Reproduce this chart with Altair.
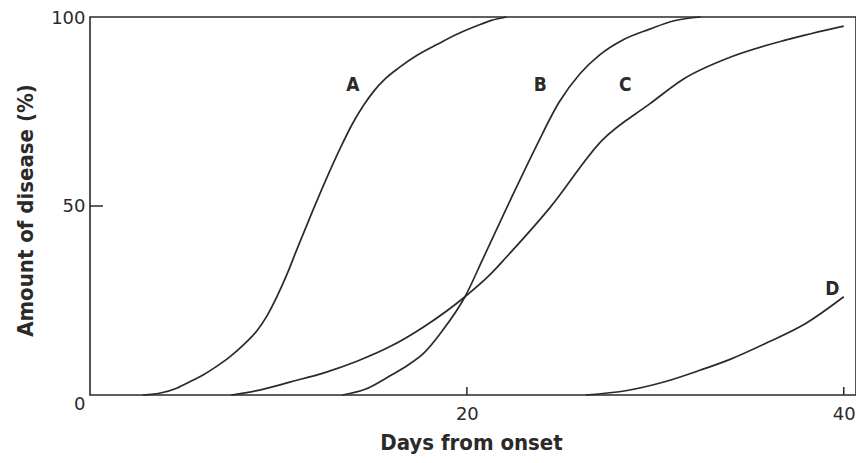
import altair as alt
import pandas as pd

# Curve data (days from onset, amount of disease %)
a_days = [2.8, 3.8, 4.6, 5.3, 6.0, 6.7, 7.4, 8.2, 8.86, 9.4, 9.9, 10.5, 11.0, 11.8, 12.57,
          13.3, 13.9, 14.5, 15.0, 15.7, 16.4, 17.4, 18.4, 19.5, 20.5, 21.3, 22.1]
a_vals = [0, 0.6, 1.8, 3.5, 5.3, 7.5, 10, 13.5, 17, 21, 25.8, 32.5, 38.8, 48.5, 57.5,
          65.5, 71.5, 76.5, 80, 83.8, 86.6, 90, 92.7, 95.5, 97.6, 99.1, 100]

b_days = [13.4, 14.6, 15.9, 16.9, 17.7, 18.7, 19.9, 20.85, 22.3, 23.7, 24.9, 26.0, 27.05,
          28.3, 29.7, 31.0, 32.4]
b_vals = [0, 1.5, 5, 8, 11, 17, 26, 36, 51.5, 66, 77.5, 85, 90, 94, 96.8, 99, 100]

c_days = [7.5, 9.0, 10.6, 12.5, 14.2, 16.0, 17.7, 19.9, 21.2, 22.1, 24.4, 27.2, 29.7,
          31.5, 34.0, 37.0, 40.0]
c_vals = [0, 1.3, 3.4, 6, 9, 13, 18, 26, 31.7, 36.5, 49.5, 67.5, 77, 83.6, 89.4, 94, 97.6]

d_days = [26.3, 28.5, 30.5, 32.4, 34.0, 36.0, 38.0, 40.0]
d_vals = [0, 1.2, 3.5, 6.6, 9.5, 14, 19, 26]

label_names = ["A", "B", "C", "D"]
label_days = [13.95, 23.9, 28.4, 39.4]
label_vals = [82, 82, 82, 28]

x_ticks = [20, 40]
y_ticks = [0, 50, 100]
y_inner_ticks = [50]

rows = []
for name, dd, vv in [("A", a_days, a_vals), ("B", b_days, b_vals),
                     ("C", c_days, c_vals), ("D", d_days, d_vals)]:
    for d, v in zip(dd, vv):
        rows.append({"curve": name, "day": d, "pct": v})
curves = pd.DataFrame(rows)
labels = pd.DataFrame({"name": label_names, "day": label_days, "pct": label_vals})
xt = pd.DataFrame({"t": x_ticks})
yt = pd.DataFrame({"t": y_inner_ticks})

W, H = 766, 378
ink = "#2a2a2a"
cond_font = "DejaVu Sans Condensed"
num_font = "DejaVu Sans"

xscale = alt.Scale(domain=[0, 40.65], nice=False, zero=False)
yscale = alt.Scale(domain=[0, 100], nice=False)

xaxis = alt.Axis(values=x_ticks, title="Days from onset", grid=False, domain=False,
                 ticks=False, labelPadding=10, labelFont=num_font,
                 labelFontSize=18, labelColor=ink, titleFont=cond_font,
                 titleFontSize=22, titleFontWeight="bold", titleColor=ink,
                 titleX=381, titleY=54, titleBaseline="alphabetic")
yaxis = alt.Axis(values=y_ticks, title="Amount of disease (%)", grid=False, domain=False,
                 ticks=False, labelPadding=5, labelFont=num_font,
                 labelFontSize=18, labelColor=ink, labelBaseline="middle",
                 labelOffset={"condition": [{"test": "datum.value === 0", "value": 9},
                                            {"test": "datum.value === 100", "value": 1}],
                              "value": 0},
                 titleFont=cond_font, titleFontSize=22, titleFontWeight="bold",
                 titleColor=ink, titleX=-58, titleY=193, titleBaseline="alphabetic",
                 titleAngle=-90)

lines = alt.Chart(curves).mark_line(color=ink, strokeWidth=1.7, interpolate="monotone").encode(
    x=alt.X("day:Q", scale=xscale, axis=xaxis),
    y=alt.Y("pct:Q", scale=yscale, axis=yaxis),
    detail="curve:N",
)

text = alt.Chart(labels).mark_text(font=cond_font, fontSize=19, fontWeight="bold",
                                   color=ink, baseline="middle", align="center").encode(
    x=alt.X("day:Q", scale=xscale),
    y=alt.Y("pct:Q", scale=yscale),
    text="name:N",
)

xtick = alt.Chart(xt).mark_rule(color=ink, strokeWidth=1.5).encode(
    x=alt.X("t:Q", scale=xscale),
    y=alt.value(H),
    y2=alt.value(H - 8),
)
ytick = alt.Chart(yt).mark_rule(color=ink, strokeWidth=1.5).encode(
    y=alt.Y("t:Q", scale=yscale),
    x=alt.value(0),
    x2=alt.value(13),
)

chart = (lines + text + xtick + ytick).properties(
    width=W, height=H,
    background="white",
    autosize=alt.AutoSizeParams(type="none"),
    padding={"left": 82, "top": 9, "right": 0, "bottom": 60},
).configure_view(stroke=ink, strokeWidth=1.6)

chart.save("out.html", embed_options={"renderer": "svg", "actions": False})
